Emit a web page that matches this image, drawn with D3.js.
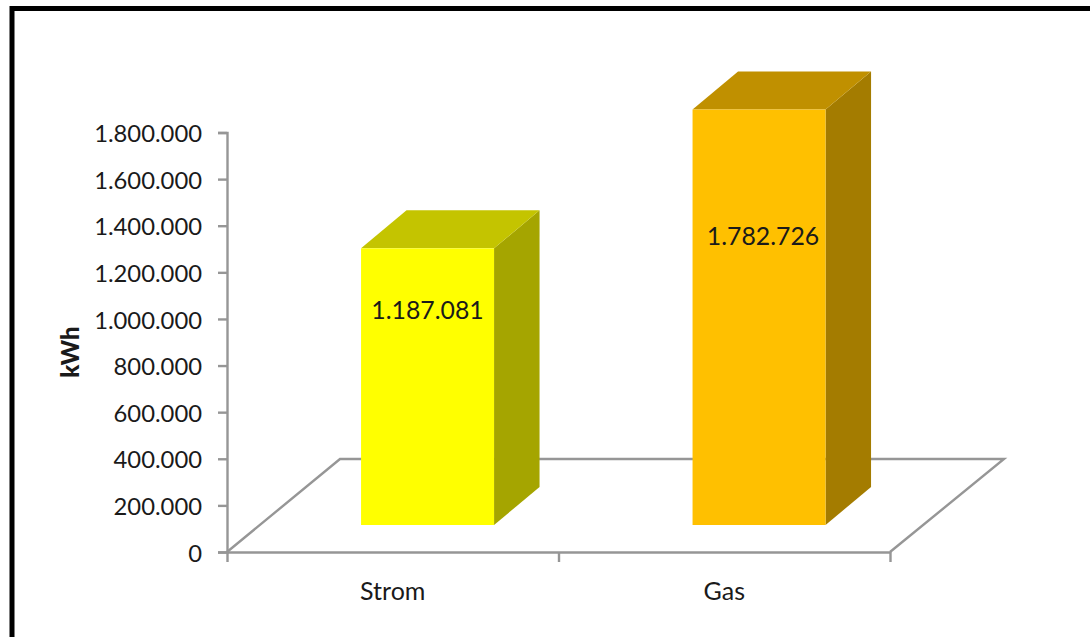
<!DOCTYPE html>
<html>
<head>
<meta charset="utf-8">
<script src="https://cdn.jsdelivr.net/npm/d3@7"></script>
<style>
  html, body { margin: 0; padding: 0; background: #fff; overflow: hidden; }
  svg { display: block; }
  text { font-family: Lato, "Open Sans", sans-serif; fill: #1a1a1a; }
</style>
</head>
<body>
<svg id="chart" width="1090" height="637"></svg>
<script>
var categories = ['Strom', 'Gas'];
var values = [1187081, 1782726];
var valueLabels = ['1.187.081', '1.782.726'];
var yTicks = [0, 200000, 400000, 600000, 800000, 1000000, 1200000, 1400000, 1600000, 1800000];
var frontColors = ['#ffff00', '#ffc000'];
var topColors = ['#c4c400', '#c09000'];
var sideColors = ['#a5a500', '#a47c00'];

var axisColor = '#969696';
var axisWidth = 2.4;
var svg = d3.select('#chart');

// page frame
svg.append('path')
  .attr('d', 'M12,637V8.5H1090')
  .attr('fill', 'none').attr('stroke', '#000').attr('stroke-width', 5);

var y = d3.scaleLinear().domain([0, 1800000]).range([552, 132.5]);
var x = d3.scaleBand().domain(categories).range([227, 890]).paddingInner(0).paddingOuter(0);

// floor depth and bar depth
var floorDx = 113, floorDy = -93;
var barDx = 45.5, barDy = -38;
var baseShift = -27;
var barShift = 34.8;
var labelDrop = [71, 135.5];

function fmt(d) { return d3.format(',')(d).replace(/,/g, '.'); }

// floor
var x0 = x.range()[0], x1 = x.range()[1], yb = y(0);
svg.append('path')
  .attr('d', 'M' + x0 + ',' + yb + 'L' + (x0 + floorDx) + ',' + (yb + floorDy) +
    'H' + (x1 + floorDx + 1) + 'L' + x1 + ',' + yb)
  .attr('fill', 'none').attr('stroke', axisColor).attr('stroke-width', axisWidth);

// bars
var barWidth = 133;
var bars = svg.append('g').selectAll('g').data(categories).enter().append('g');

function barX(d) { return x(d) + (x.bandwidth() - barWidth) / 2 + barShift; }
function barBase() { return y(0) + baseShift; }
function barTop(i) { return barBase() - (y(0) - y(values[i])); }

bars.append('path')
  .attr('fill', function(d, i){ return sideColors[i]; })
  .attr('d', function(d, i){
    var r = barX(d) + barWidth;
    return 'M' + r + ',' + barBase() + 'V' + barTop(i) + 'l' + barDx + ',' + barDy +
      'V' + (barBase() + barDy) + 'Z';
  });
bars.append('path')
  .attr('fill', function(d, i){ return topColors[i]; })
  .attr('d', function(d, i){
    return 'M' + barX(d) + ',' + barTop(i) + 'h' + barWidth + 'l' + barDx + ',' + barDy +
      'h' + (-barWidth) + 'Z';
  });
bars.append('rect')
  .attr('x', barX)
  .attr('y', function(d, i){ return barTop(i); })
  .attr('width', barWidth)
  .attr('height', function(d, i){ return barBase() - barTop(i); })
  .attr('fill', function(d, i){ return frontColors[i]; });
bars.append('text')
  .attr('x', function(d, i){ return barX(d) + barWidth / 2 + (i ? 4 : 0); })
  .attr('y', function(d, i){ return barTop(i) + labelDrop[i]; })
  .attr('text-anchor', 'middle')
  .attr('font-size', 24.8)
  .text(function(d, i){ return valueLabels[i]; });

// axes
var yAxis = d3.axisLeft(y).tickValues(yTicks).tickFormat(fmt).tickSize(9).tickPadding(16);
var gy = svg.append('g').attr('transform', 'translate(227,0)').call(yAxis);
gy.selectAll('path, line').attr('stroke', axisColor).attr('stroke-width', axisWidth);
gy.selectAll('text').attr('font-size', 23.8).attr('fill', '#1a1a1a').attr('y', 1.5);
gy.attr('font-family', null);

// tick marks sit between the categories
var xEdges = [x0, x(categories[1]), x1];
var xAxisScale = d3.scaleIdentity().domain([x0, x1]);
var xAxis = d3.axisBottom(xAxisScale).tickValues(xEdges).tickFormat('').tickSize(10).tickSizeOuter(0);
var gx = svg.append('g').attr('transform', 'translate(0,' + yb + ')').call(xAxis);
gx.selectAll('path, line').attr('stroke', axisColor).attr('stroke-width', axisWidth);

svg.append('g').selectAll('text').data(categories).enter().append('text')
  .attr('x', function(d){ return x(d) + x.bandwidth() / 2; })
  .attr('y', 599.5)
  .attr('text-anchor', 'middle')
  .attr('font-size', 25)
  .text(function(d){ return d; });

svg.append('text')
  .attr('transform', 'translate(78.5,352) rotate(-90)')
  .attr('text-anchor', 'middle')
  .attr('font-size', 24)
  .attr('font-weight', 900)
  .attr('fill', '#000')
  .text('kWh');
</script>
</body>
</html>
